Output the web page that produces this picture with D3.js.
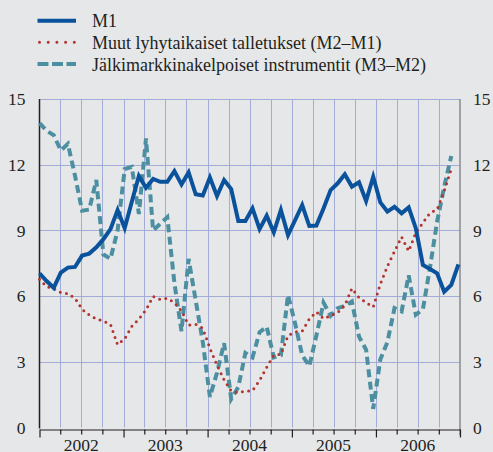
<!DOCTYPE html>
<html>
<head>
<meta charset="utf-8">
<script src="https://cdn.jsdelivr.net/npm/d3@7"></script>
</head>
<body style="margin:0;padding:0;background:#e6e7e9">
<div id="container"></div>
<script>
// Monthly values, Jan 2002 – Dec 2006 (annual growth, %)
const m1 = [7.04, 6.69, 6.38, 7.07, 7.3, 7.33, 7.85, 7.94, 8.23, 8.6,
  9.06, 9.93, 9.1, 10.31, 11.48, 10.95, 11.35, 11.22, 11.22, 11.71,
  11.1, 11.65, 10.65, 10.59, 11.41, 10.57, 11.3, 10.89, 9.43, 9.43,
  10.01, 9.06, 9.67, 8.91, 9.93, 8.79, 9.47, 10.16, 9.2, 9.22,
  10.0, 10.84, 11.15, 11.56, 11.0, 11.2, 10.34, 11.45, 10.28, 9.86,
  10.08, 9.78, 10.05, 9.1, 7.42, 7.24, 7.04, 6.2, 6.51, 7.45];

const m2m1 = [6.77, 6.43, 6.34, 6.16, 6.11, 5.9, 5.4, 5.14, 4.95, 4.86,
  4.71, 3.78, 4.05, 4.62, 4.95, 5.37, 5.99, 5.84, 5.9, 5.7,
  5.32, 4.68, 4.71, 4.53, 3.62, 2.85, 2.17, 1.67, 1.59, 1.66,
  1.68, 2.15, 2.75, 3.3, 3.34, 4.2, 4.36, 4.4, 4.95, 5.28,
  4.97, 5.1, 5.25, 5.58, 6.35, 5.93, 5.7, 5.5, 6.55, 7.36,
  8.04, 8.7, 8.05, 8.9, 9.35, 9.8, 9.95, 10.8, 11.8];

const m3m2 = [13.9, 13.55, 13.35, 12.65, 12.95, 11.5, 9.9, 9.95, 11.3, 7.9,
  7.7, 9.0, 11.8, 11.9, 9.75, 13.2, 9.0, 9.3, 9.6, 6.6,
  4.4, 7.7, 5.8, 3.9, 1.4, 2.5, 3.85, 1.3, 1.85, 3.4,
  3.2, 4.35, 4.6, 3.2, 3.3, 6.05, 4.75, 3.3, 2.8, 4.2,
  5.7, 5.1, 5.45, 5.55, 5.75, 4.15, 3.55, 0.85, 3.1, 3.9,
  5.45, 5.3, 6.95, 5.15, 5.4, 7.3, 9.4, 11.0, 12.4];

const years = ["2002", "2003", "2004", "2005", "2006"];
const yTicks = [0, 3, 6, 9, 12, 15];
const legendLabels = [
  "M1",
  "Muut lyhytaikaiset talletukset (M2–M1)",
  "Jälkimarkkinakelpoiset instrumentit (M3–M2)"
];

// Dimensions
const width = 493;
const height = 452;
const plotLeft = 39.5;
const plotRight = 460;
const plotTop = 99;
const plotBottom = 427.5;
const fontFamily = "Liberation Serif";
const textColor = "#231f20";

const colorM1 = "#0a539c";
const colorM2 = "#b3332d";
const colorM3 = "#4b8fa0";
const gridColor = "#a3acd9";

const svg = d3.select("#container").append("svg")
    .attr("width", width)
    .attr("height", height)
    .attr("font-family", fontFamily)
    .style("display", "block");

// Scales
const x = d3.scaleLinear()
    .domain([0, 59])
    .range([plotLeft, 458.4]);

const xTime = d3.scaleTime()
    .domain([new Date(2002, 0, 1), new Date(2007, 0, 1)])
    .range([plotLeft, plotRight]);

const y = d3.scaleLinear()
    .domain([0, 15])
    .range([plotBottom, plotTop]);

// Grid lines
const quarters = xTime.ticks(d3.timeMonth.every(3))
    .filter(d => xTime(d) > plotLeft + 1 && xTime(d) < plotRight - 1);

svg.append("g")
    .attr("stroke", gridColor)
    .attr("stroke-width", 1)
    .selectAll("line")
    .data(quarters)
    .join("line")
    .attr("x1", d => Math.round(xTime(d)) + 0.5)
    .attr("x2", d => Math.round(xTime(d)) + 0.5)
    .attr("y1", plotTop)
    .attr("y2", plotBottom);

svg.append("g")
    .attr("stroke", gridColor)
    .attr("stroke-width", 1)
    .selectAll("line")
    .data(yTicks.filter(d => d > 0))
    .join("line")
    .attr("x1", plotLeft)
    .attr("x2", plotRight)
    .attr("y1", d => Math.round(y(d)) + 0.5)
    .attr("y2", d => Math.round(y(d)) + 0.5);

// Axes lines
svg.append("line")
    .attr("x1", plotLeft).attr("x2", plotLeft)
    .attr("y1", plotTop).attr("y2", plotBottom + 1)
    .attr("stroke", textColor).attr("stroke-width", 1.5);

svg.append("line")
    .attr("x1", plotRight).attr("x2", plotRight)
    .attr("y1", plotTop).attr("y2", plotBottom + 8)
    .attr("stroke", "#8a8a8e").attr("stroke-width", 1.5);

// Bottom axis with quarter ticks
const xAxis = svg.append("g")
    .attr("transform", `translate(0,${plotBottom + 2})`)
    .call(d3.axisBottom(xTime)
        .ticks(d3.timeMonth.every(3))
        .tickSize(5)
        .tickSizeOuter(0)
        .tickFormat(""));
xAxis.select(".domain").attr("stroke", textColor).attr("stroke-width", 1.2);
xAxis.selectAll(".tick line")
    .attr("stroke", textColor)
    .attr("stroke-width", 1.2)
    .attr("y2", d => d.getMonth() === 0 ? 8 : 5);

// Year labels, centred on each year
svg.append("g")
    .selectAll("text")
    .data(years)
    .join("text")
    .attr("x", d => xTime(new Date(+d, 6, 1)))
    .attr("y", 451)
    .attr("text-anchor", "middle")
    .attr("font-family", fontFamily)
    .attr("font-size", 17.5)
    .attr("fill", textColor)
    .text(d => d);

// Y labels both sides
const leftAxis = svg.append("g")
    .attr("transform", `translate(${plotLeft},0)`)
    .call(d3.axisLeft(y).tickValues(yTicks).tickSize(0).tickPadding(14));
leftAxis.attr("font-family", fontFamily).attr("font-size", 17.5);
leftAxis.select(".domain").remove();
leftAxis.selectAll("text").attr("fill", textColor);

const rightAxis = svg.append("g")
    .attr("transform", `translate(${plotRight},0)`)
    .call(d3.axisRight(y).tickValues(yTicks).tickSize(0).tickPadding(13));
rightAxis.attr("font-family", fontFamily).attr("font-size", 17.5);
rightAxis.select(".domain").remove();
rightAxis.selectAll("text").attr("fill", textColor);

// Series lines
const line = d3.line()
    .x((d, i) => x(i))
    .y(d => y(d));

svg.append("path")
    .datum(m3m2)
    .attr("fill", "none")
    .attr("stroke", colorM3)
    .attr("stroke-width", 4)
    .attr("stroke-dasharray", "8,4.5")
    .attr("d", line);

svg.append("path")
    .datum(m2m1)
    .attr("fill", "none")
    .attr("stroke", colorM2)
    .attr("stroke-width", 3)
    .attr("stroke-linecap", "round")
    .attr("stroke-dasharray", "0,6.3")
    .attr("d", line);

svg.append("path")
    .datum(m1)
    .attr("fill", "none")
    .attr("stroke", colorM1)
    .attr("stroke-width", 4)
    .attr("d", line);

// Legend
const legendStyles = [
  {color: colorM1, width: 4, dash: null, cap: "butt"},
  {color: colorM2, width: 3, dash: "0,8.7", cap: "round"},
  {color: colorM3, width: 4, dash: "11,3.5", cap: "butt"}
];

const legend = svg.append("g")
    .selectAll("g")
    .data(legendLabels)
    .join("g")
    .attr("transform", (d, i) => `translate(0,${20.7 + i * 21.6})`);

legend.append("line")
    .attr("x1", (d, i) => i === 1 ? 39.5 : 37.5)
    .attr("x2", 76)
    .attr("stroke", (d, i) => legendStyles[i].color)
    .attr("stroke-width", (d, i) => legendStyles[i].width)
    .attr("stroke-dasharray", (d, i) => legendStyles[i].dash)
    .attr("stroke-linecap", (d, i) => legendStyles[i].cap);

legend.append("text")
    .attr("x", 92)
    .attr("y", 6.6)
    .attr("font-family", fontFamily)
    .attr("font-size", 18)
    .attr("fill", textColor)
    .text(d => d);
</script>
</body>
</html>
